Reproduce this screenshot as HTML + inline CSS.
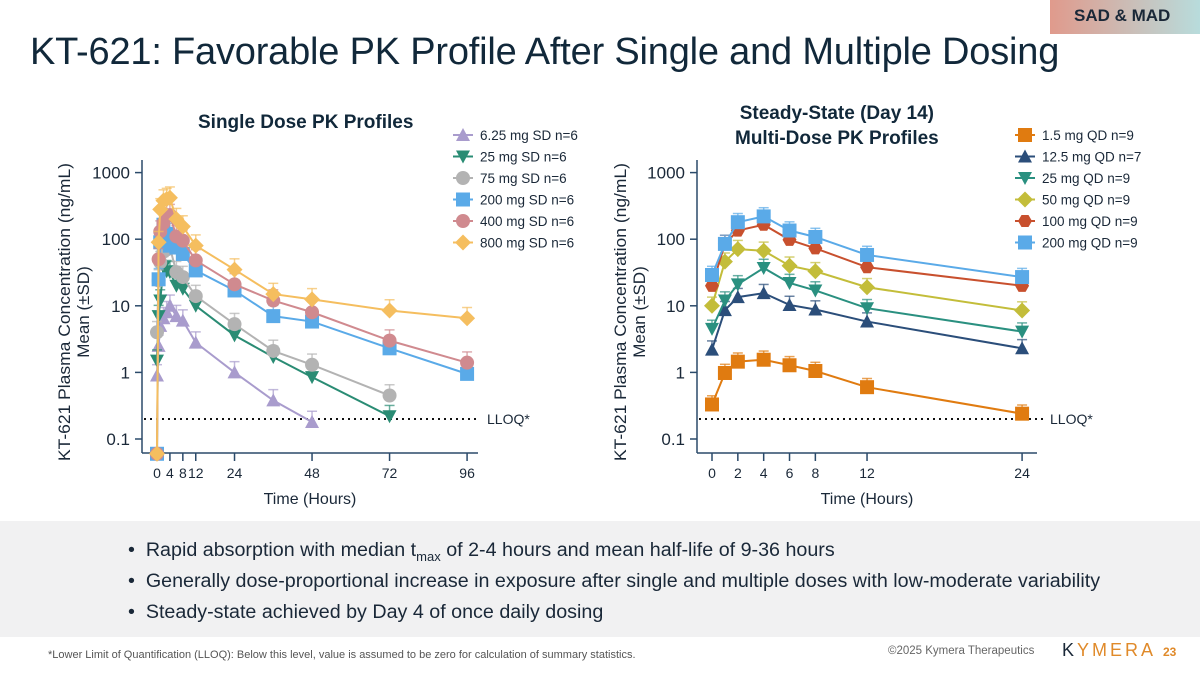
<!DOCTYPE html>
<html><head><meta charset="utf-8"><style>
body{margin:0;width:1200px;height:675px;overflow:hidden;background:#fff;font-family:"Liberation Sans",sans-serif;position:relative}
.t{position:absolute;white-space:nowrap}
</style></head><body>
<div class="t" style="left:1050px;top:0;width:150px;height:34px;background:linear-gradient(90deg,#e09a8c,#b8dcdc);"></div>
<div class="t" style="left:1074px;top:6px;font-size:17px;font-weight:bold;color:#1a2838">SAD &amp; MAD</div>
<div class="t" style="left:30px;top:31px;font-size:38px;color:#11283a;letter-spacing:-0.2px">KT-621: Favorable PK Profile After Single and Multiple Dosing</div>
<div class="t" style="left:198px;top:112px;font-size:19px;font-weight:bold;color:#11283a">Single Dose PK Profiles</div>
<div class="t" style="left:735px;top:101px;font-size:19px;font-weight:bold;color:#11283a;text-align:center;line-height:25px">Steady-State (Day 14)<br>Multi-Dose PK Profiles</div>
<svg width="1200" height="520" style="position:absolute;left:0;top:0" id="svg"></svg>
<div class="t" style="left:0;top:521px;width:1200px;height:116px;background:#f1f1f2"></div>
<div class="t" style="left:128px;top:539px;font-size:19.7px;color:#1a2838">•&nbsp;&nbsp;Rapid absorption with median t<sub style="font-size:13px">max</sub> of 2-4 hours and mean half-life of 9-36 hours</div>
<div class="t" style="left:128px;top:570px;font-size:19.7px;color:#1a2838">•&nbsp;&nbsp;Generally dose-proportional increase in exposure after single and multiple doses with low-moderate variability</div>
<div class="t" style="left:128px;top:601px;font-size:19.7px;color:#1a2838">•&nbsp;&nbsp;Steady-state achieved by Day 4 of once daily dosing</div>
<div class="t" style="left:48px;top:649px;font-size:11px;color:#555">*Lower Limit of Quantification (LLOQ): Below this level, value is assumed to be zero for calculation of summary statistics.</div>
<div class="t" style="left:888px;top:645px;font-size:11.5px;color:#666">©2025 Kymera Therapeutics</div>
<div class="t" style="left:1062px;top:640px;font-size:18px;letter-spacing:3px;color:#e08a2a"><span style="color:#1a2838">K</span>YMERA</div>
<div class="t" style="left:1163px;top:645px;font-size:12px;font-weight:bold;color:#e08a2a">23</div>
<script>
const sdTimes=[0,0.5,1,2,3,4,6,8,12,24,36,48,72,96];
const sdLabels=["6.25 mg SD n=6","25 mg SD n=6","75 mg SD n=6","200 mg SD n=6","400 mg SD n=6","800 mg SD n=6"];
const sd625=[0.9,2.5,5,6.5,8,10,7,6,2.8,1.0,0.38,0.18,null,null];
const sd25=[1.5,7,12,38,33,32,20,18,10,3.6,1.7,0.85,0.22,null];
const sd75=[4,24,45,65,70,75,32,27,14,5.3,2.1,1.3,0.45,null];
const sd200=[0.06,25,90,165,120,80,75,60,34,17,7,5.8,2.3,0.95];
const sd400=[0.06,50,130,175,230,230,110,95,48,21,12,8,3,1.4];
const sd800=[0.06,90,280,380,400,420,200,155,80,35,15,12.5,8.5,6.5];
const mdTimes=[0,1,2,4,6,8,12,24];
const mdLabels=["1.5 mg QD n=9","12.5 mg QD n=7","25 mg QD n=9","50 mg QD n=9","100 mg QD n=9","200 mg QD n=9"];
const md15=[0.33,0.98,1.45,1.55,1.28,1.05,0.6,0.24];
const md125=[2.2,8.6,13.5,15.5,10.3,8.8,5.8,2.3];
const md25=[4.5,12,21,37,22,17,9.2,4.1];
const md50=[10,46,71,67,40,33,19,8.5];
const md100=[20,85,135,165,98,73,38,20];
const md200=[29,85,180,220,135,108,58,27];
const sdErr=0.45, mdErr=0.35;
const yTicks=[1000,100,10,1,0.1];
const sdXTicks=[0,4,8,12,24,48,72,96];
const mdXTicks=[0,2,4,6,8,12,24];
const LLOQ=0.2;

const svg=document.getElementById('svg');const NS='http://www.w3.org/2000/svg';
function mk(tag,attrs,name,txt){const e=document.createElementNS(NS,tag);for(const k in attrs)e.setAttribute(k,attrs[k]);


if(txt!==undefined)e.textContent=txt;svg.appendChild(e);return e;}
const yS=v=>439-(Math.log10(v)+1)*66.6;
function marker(shape,x,y,c,name){
 const s=7;
 if(shape==='sq')mk('rect',{x:x-s,y:y-s,width:2*s,height:2*s,fill:c},name);
 else if(shape==='ci')mk('circle',{cx:x,cy:y,r:s,fill:c},name);
 else if(shape==='tu')mk('polygon',{points:`${x},${y-s} ${x-s},${y+s-1} ${x+s},${y+s-1}`,fill:c},name);
 else if(shape==='td')mk('polygon',{points:`${x},${y+s} ${x-s},${y-s+1} ${x+s},${y-s+1}`,fill:c},name);
 else if(shape==='di')mk('polygon',{points:`${x},${y-s-1} ${x+s+1},${y} ${x},${y+s+1} ${x-s-1},${y}`,fill:c},name);
 else if(shape==='hx'){let p=[];for(let i=0;i<6;i++){const a=Math.PI/3*i;p.push((x+s*Math.cos(a))+','+(y+s*Math.sin(a)));}mk('polygon',{points:p.join(' '),fill:c},name);}
}
function chart(pfx,x0,axL,axR,xS,times,xt,series,err,lloqX1,lloqLabelX,legX){
 mk('line',{x1:axL,y1:160,x2:axL,y2:453,stroke:'#2b4a6a','stroke-width':1.5},pfx+'-y-axis');
 mk('line',{x1:axL,y1:453,x2:axR,y2:453,stroke:'#2b4a6a','stroke-width':1.5},pfx+'-x-axis');
 yTicks.forEach(v=>{const y=yS(v);mk('line',{x1:axL-7,y1:y,x2:axL,y2:y,stroke:'#2b4a6a','stroke-width':1.5},pfx+'-y-tick');
  mk('text',{x:axL-12,y:y+6,'text-anchor':'end','font-size':17,fill:'#1a2838'},pfx+'-y-tick-label',String(v));});
 xt.forEach(v=>{const x=xS(v);mk('line',{x1:x,y1:453,x2:x,y2:461,stroke:'#2b4a6a','stroke-width':1.5},pfx+'-x-tick');
  mk('text',{x:x,y:478,'text-anchor':'middle','font-size':14,fill:'#1a2838'},pfx+'-x-tick-label',String(v));});
 mk('line',{x1:axL+2,y1:yS(LLOQ),x2:lloqX1,y2:yS(LLOQ),stroke:'#111','stroke-width':2,'stroke-dasharray':'2 4'},pfx+'-lloq-line');
 mk('text',{x:lloqLabelX,y:yS(LLOQ)+5,'font-size':14,fill:'#1a2838'},pfx+'-lloq-label','LLOQ*');
 mk('text',{x:(axL+axR)/2,y:504,'text-anchor':'middle','font-size':16,fill:'#1a2838'},pfx+'-x-axis-title','Time (Hours)');
 const cx=x0, cy=312;
 mk('text',{x:cx,y:cy,transform:`rotate(-90 ${cx} ${cy})`,'text-anchor':'middle','font-size':17,fill:'#1a2838',textLength:298,lengthAdjust:'spacingAndGlyphs'},pfx+'-y-axis-title','KT-621 Plasma Concentration (ng/mL)');
 mk('text',{x:cx+19,y:cy,transform:`rotate(-90 ${cx+19} ${cy})`,'text-anchor':'middle','font-size':17,fill:'#1a2838'},pfx+'-y-axis-subtitle','Mean (±SD)');
 series.forEach((s,si)=>{
  const pts=[];s.v.forEach((v,i)=>{if(v!=null)pts.push([xS(times[i]),yS(v),v]);});
  pts.forEach(p=>{if(p[2]>0.1){const ye=yS(p[2]*(1+err));mk('line',{x1:p[0],y1:p[1],x2:p[0],y2:ye,stroke:s.c,'stroke-width':1.5,opacity:0.7},pfx+'-error-bar');mk('line',{x1:p[0]-5,y1:ye,x2:p[0]+5,y2:ye,stroke:s.c,'stroke-width':1.5,opacity:0.7},pfx+'-error-cap');}});
  mk('polyline',{points:pts.map(p=>p[0]+','+p[1]).join(' '),fill:'none',stroke:s.c,'stroke-width':2},pfx+'-line-'+si);
  pts.forEach(p=>marker(s.m,p[0],p[1],s.c,pfx+'-point-'+si));
  const ly=135+si*21.5;
  mk('line',{x1:legX-10,y1:ly,x2:legX+10,y2:ly,stroke:s.c,'stroke-width':2},pfx+'-legend-line');
  marker(s.m,legX,ly,s.c,pfx+'-legend-marker');
  mk('text',{x:legX+17,y:ly+5,'font-size':13.5,fill:'#1a2838'},pfx+'-legend-label',s.l);
 });
}
chart('sd',70,142,478,t=>157+t*3.23,sdTimes,sdXTicks,[
 {v:sd625,c:'#a99ccd',m:'tu',l:sdLabels[0]},{v:sd25,c:'#2a8c74',m:'td',l:sdLabels[1]},
 {v:sd75,c:'#b3b3b3',m:'ci',l:sdLabels[2]},{v:sd200,c:'#5aaae8',m:'sq',l:sdLabels[3]},
 {v:sd400,c:'#d08a8f',m:'ci',l:sdLabels[4]},{v:sd800,c:'#f5be5f',m:'di',l:sdLabels[5]}],sdErr,480,487,463);
chart('md',626,697,1037,t=>712+t*12.92,mdTimes,mdXTicks,[
 {v:md15,c:'#e07b10',m:'sq',l:mdLabels[0]},{v:md125,c:'#2b4e7a',m:'tu',l:mdLabels[1]},
 {v:md25,c:'#2a9080',m:'td',l:mdLabels[2]},{v:md50,c:'#c3bd3a',m:'di',l:mdLabels[3]},
 {v:md100,c:'#c8502e',m:'hx',l:mdLabels[4]},{v:md200,c:'#5aaae8',m:'sq',l:mdLabels[5]}],mdErr,1043,1050,1025);
</script>
</body></html>
